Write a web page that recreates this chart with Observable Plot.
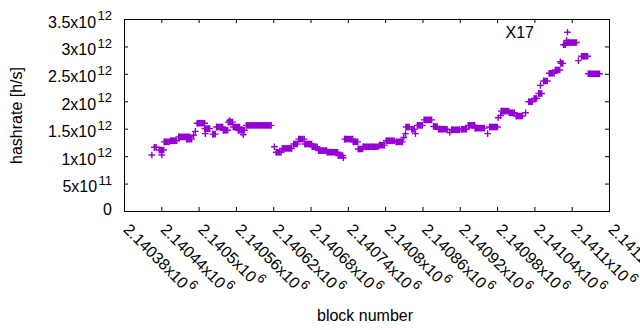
<!DOCTYPE html>
<html><head><meta charset="utf-8">
<script src="https://cdn.jsdelivr.net/npm/d3@7"></script>
<script src="https://cdn.jsdelivr.net/npm/@observablehq/plot@0.6"></script>
<style>
html,body{margin:0;padding:0;background:#fff;overflow:hidden;}
#chart svg{display:block;overflow:hidden;}
</style></head><body><div id="chart"></div>
<script>
// Axis ticks and labels
const xTicks = [2140380, 2140440, 2140500, 2140560, 2140620, 2140680, 2140740, 2140800, 2140860, 2140920, 2140980, 2141040, 2141100, 2141160];
const xTickLabels = ["2.14038x10^6", "2.14044x10^6", "2.1405x10^6", "2.14056x10^6", "2.14062x10^6", "2.14068x10^6", "2.14074x10^6", "2.1408x10^6", "2.14086x10^6", "2.14092x10^6", "2.14098x10^6", "2.14104x10^6", "2.1411x10^6", "2.14116x10^6"];
const yTicks = [0, 0.5e12, 1e12, 1.5e12, 2e12, 2.5e12, 3e12, 3.5e12];
const yTickLabels = ["0", "5x10^11", "1x10^12", "1.5x10^12", "2x10^12", "2.5x10^12", "3x10^12", "3.5x10^12"];

// Runs of (nearly) constant hashrate: start block, end block, value
const runStart = [2140428, 2140436, 2140444, 2140454, 2140467, 2140480, 2140497, 2140509, 2140522, 2140528, 2140539, 2140547, 2140555, 2140563, 2140576, 2140624, 2140634, 2140652, 2140660, 2140670, 2140682, 2140692, 2140706, 2140724, 2140734, 2140748, 2140756, 2140764, 2140779, 2140790, 2140801, 2140817, 2140833, 2140842, 2140851, 2140862, 2140877, 2140885, 2140906, 2140922, 2140933, 2140944, 2140967, 2140986, 2140999, 2141010, 2141030, 2141039, 2141046, 2141054, 2141063, 2141073, 2141082, 2141086, 2141091, 2141115, 2141126];
const runEnd = [2140431, 2140443, 2140452, 2140464, 2140485, 2140488, 2140509, 2140517, 2140526, 2140538, 2140546, 2140554, 2140565, 2140573, 2140616, 2140632, 2140649, 2140658, 2140669, 2140681, 2140690, 2140705, 2140723, 2140731, 2140747, 2140755, 2140763, 2140777, 2140788, 2140798, 2140814, 2140827, 2140838, 2140846, 2140859, 2140874, 2140883, 2140899, 2140919, 2140930, 2140943, 2140959, 2140980, 2140998, 2141007, 2141020, 2141036, 2141043, 2141051, 2141060, 2141071, 2141080, 2141085, 2141089, 2141107, 2141125, 2141144];
const runValue = [1.17e12, 1.12e12, 1.27e12, 1.29e12, 1.36e12, 1.32e12, 1.61e12, 1.51e12, 1.41e12, 1.54e12, 1.48e12, 1.63e12, 1.54e12, 1.48e12, 1.57e12, 1.08e12, 1.15e12, 1.23e12, 1.32e12, 1.23e12, 1.18e12, 1.11e12, 1.08e12, 1.02e12, 1.32e12, 1.27e12, 1.14e12, 1.18e12, 1.18e12, 1.21e12, 1.29e12, 1.27e12, 1.54e12, 1.50e12, 1.57e12, 1.67e12, 1.55e12, 1.50e12, 1.49e12, 1.50e12, 1.57e12, 1.52e12, 1.54e12, 1.83e12, 1.80e12, 1.74e12, 2.00e12, 2.06e12, 2.15e12, 2.38e12, 2.52e12, 2.58e12, 2.70e12, 3.04e12, 3.08e12, 2.83e12, 2.51e12];

// Isolated blocks
const pointBlock = [2140424, 2140440, 2140491, 2140494, 2140510, 2140549, 2140571, 2140621, 2140732, 2140829, 2140832, 2140848, 2140903, 2140964, 2140981, 2140985, 2141025, 2141049, 2141081, 2141091, 2141110];
const pointValue = [1.03e12, 1.03e12, 1.39e12, 1.46e12, 1.42e12, 1.66e12, 1.40e12, 1.18e12, 0.98e12, 1.35e12, 1.42e12, 1.42e12, 1.44e12, 1.42e12, 1.71e12, 1.75e12, 1.80e12, 2.30e12, 2.73e12, 3.12e12, 2.75e12];

const seriesName = "X17";
const xTitle = "block number";
const yTitle = "hashrate [h/s]";

const color = "#9400d3";
const font = "'Liberation Sans', Arial, sans-serif";
const plus = {draw(ctx) { const r = 3.3; ctx.moveTo(-r, 0); ctx.lineTo(r, 0); ctx.moveTo(0, -r); ctx.lineTo(0, r); }};
const runs = d3.range(runStart.length);
const pts = d3.range(pointBlock.length);
const dotStyle = {symbol: plus, stroke: color, fill: "none", strokeWidth: 1.4};

const chart = Plot.plot({
  width: 640, height: 330,
  marginLeft: 124, marginRight: 31, marginTop: 19, marginBottom: 119,
  style: {fontFamily: font, fontSize: "16px", color: "black", background: "white", overflow: "hidden"},
  x: {domain: [2140380, 2141160], axis: null},
  y: {domain: [0, 3.5e12], axis: null},
  marks: [
    Plot.ruleY(runs, {y: i => runValue[i], x1: i => runStart[i], x2: i => runEnd[i], stroke: color, strokeWidth: 6.6}),
    Plot.dot(runs, {x: i => runStart[i], y: i => runValue[i], ...dotStyle}),
    Plot.dot(runs, {x: i => runEnd[i], y: i => runValue[i], ...dotStyle}),
    Plot.dot(pts, {x: i => pointBlock[i], y: i => pointValue[i], ...dotStyle}),
    Plot.frame({stroke: "black"}),
    Plot.ruleX(xTicks, {x: d => d, insetTop: 188, stroke: "black"}),
    Plot.ruleX(xTicks, {x: d => d, insetBottom: 188, stroke: "black"}),
    Plot.ruleY(yTicks, {y: d => d, insetRight: 481, stroke: "black"}),
    Plot.ruleY(yTicks, {y: d => d, insetLeft: 481, stroke: "black"}),
    Plot.text(yTicks, {y: d => d, text: (d, i) => yTickLabels[i], frameAnchor: "left", textAnchor: "end", dx: -12.5, fill: "black"}),
    Plot.text(xTicks, {x: d => d, text: (d, i) => xTickLabels[i], frameAnchor: "bottom", rotate: 45, textAnchor: "start", lineAnchor: "middle", dx: 3.7, dy: 13.3, fill: "black"}),
    Plot.text([yTitle], {text: d => d, frameAnchor: "left", rotate: -90, textAnchor: "middle", lineAnchor: "middle", dx: -108, fill: "black"}),
    Plot.text([xTitle], {text: d => d, frameAnchor: "bottom", textAnchor: "middle", lineAnchor: "middle", dx: -2, dy: 103.9, fill: "black"}),
    Plot.text([seriesName], {text: d => d, frameAnchor: "top-right", textAnchor: "end", lineAnchor: "middle", dx: -75.5, dy: 13.2, fill: "black"}),
    Plot.dot([seriesName], {frameAnchor: "top-right", dx: -42, dy: 12.7, ...dotStyle})
  ]
});

// Render "a^b" tick labels with real superscripts
const tickLabelSet = new Set([...xTickLabels, ...yTickLabels]);
d3.select(chart).selectAll("text").each(function () {
  const s = this.textContent;
  if (!tickLabelSet.has(s)) return;
  const parts = s.split("^");
  const t = d3.select(this);
  t.text(null);
  t.append("tspan").attr("dy", parts.length > 1 ? 2.9 : -1.8).text(parts[0]);
  if (parts.length > 1) {
    t.append("tspan").attr("dx", 1.4).attr("dy", -7.4).attr("font-size", 13).text(parts[1]);
  }
});

document.getElementById("chart").appendChild(chart);
</script></body></html>
